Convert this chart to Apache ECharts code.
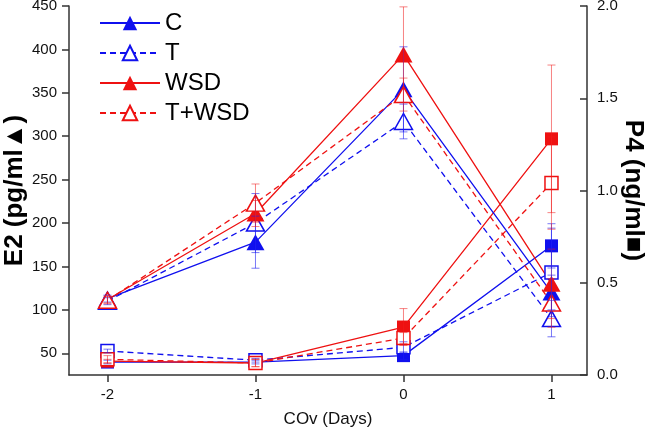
<!DOCTYPE html>
<html>
<head>
<meta charset="utf-8">
<script src="https://cdn.jsdelivr.net/npm/echarts@6/dist/echarts.min.js"></script>
<style>html,body{margin:0;padding:0;background:#fff}#c{width:649px;height:431px}</style>
</head>
<body>
<div id="c"></div>
<script>
// ---- data ----
const days = [-2, -1, 0, 1];
const groups = ['C', 'T', 'WSD', 'T+WSD'];
// E2 (pg/ml), left axis, triangles
const e2_C = [113, 178, 354, 120];
const e2_T = [110, 200, 317, 90];
const e2_WSD = [112, 211, 394, 130];
const e2_TWSD = [111, 223, 348, 108];
const e2err_C = [4, 30, 49, 20];
const e2err_T = [4, 34, 20, 21];
const e2err_WSD = [4, 15, 55, 40];
const e2err_TWSD = [4, 22, 19, 28];
// P4 (ng/ml), right axis, squares
const p4_C = [0.07, 0.07, 0.105, 0.70];
const p4_T = [0.13, 0.08, 0.15, 0.556];
const p4_WSD = [0.075, 0.065, 0.26, 1.28];
const p4_TWSD = [0.085, 0.065, 0.20, 1.04];
const p4err_C = [0.01, 0.01, 0.02, 0.12];
const p4err_T = [0.01, 0.01, 0.03, 0.24];
const p4err_WSD = [0.01, 0.02, 0.10, 0.40];
const p4err_TWSD = [0.02, 0.02, 0.03, 0.25];
const leftTicks = [50, 100, 150, 200, 250, 300, 350, 400, 450];
const xTicks = [-2, -1, 0, 1];

const BLUE = '#1010ee', RED = '#ee1111';
const FONT = 'Liberation Sans, Arial, sans-serif';

function lineS(name, vals, axis, color, dashed, filled, symbol, size) {
  return {
    name: name, type: 'line', yAxisIndex: axis,
    data: days.map((d, i) => [d, vals[i]]),
    symbol: symbol, symbolSize: size,
    lineStyle: {color: color, width: 1.3, type: dashed ? [6, 4] : 'solid'},
    itemStyle: {color: filled ? color : '#fff', borderColor: color, borderWidth: filled ? 0 : 1.5},
    z: 3, animation: false
  };
}
function errS(vals, errs, axis, color) {
  return {
    type: 'custom', yAxisIndex: axis, silent: true, z: 5, animation: false,
    data: days.map((d, i) => [d, vals[i] - errs[i], vals[i] + errs[i]]),
    renderItem: function (params, api) {
      const lo = api.coord([api.value(0), api.value(1)]);
      const hi = api.coord([api.value(0), api.value(2)]);
      const hw = 4;
      const st = {stroke: color, lineWidth: 1};
      return {type: 'group', children: [
        {type: 'line', shape: {x1: lo[0], y1: lo[1], x2: hi[0], y2: hi[1]}, style: st},
        {type: 'line', shape: {x1: lo[0] - hw, y1: lo[1], x2: lo[0] + hw, y2: lo[1]}, style: st},
        {type: 'line', shape: {x1: hi[0] - hw, y1: hi[1], x2: hi[0] + hw, y2: hi[1]}, style: st}
      ]};
    }
  };
}
const EB = 'rgba(30,30,240,0.6)', ER = 'rgba(240,30,30,0.55)';
const triSize = [18, 16], sqSize = 13;

const series = [
  errS(e2_C, e2err_C, 0, EB), errS(e2_T, e2err_T, 0, EB),
  errS(e2_WSD, e2err_WSD, 0, ER), errS(e2_TWSD, e2err_TWSD, 0, ER),
  errS(p4_C, p4err_C, 1, EB), errS(p4_T, p4err_T, 1, EB),
  errS(p4_WSD, p4err_WSD, 1, ER), errS(p4_TWSD, p4err_TWSD, 1, ER),
  lineS('P4 C', p4_C, 1, BLUE, false, true, 'rect', sqSize),
  lineS('P4 T', p4_T, 1, BLUE, true, false, 'rect', sqSize),
  lineS('P4 WSD', p4_WSD, 1, RED, false, true, 'rect', sqSize),
  lineS('P4 T+WSD', p4_TWSD, 1, RED, true, false, 'rect', sqSize),
  lineS(groups[0], e2_C, 0, BLUE, false, true, 'triangle', triSize),
  lineS(groups[1], e2_T, 0, BLUE, true, false, 'triangle', triSize),
  lineS(groups[2], e2_WSD, 0, RED, false, true, 'triangle', triSize),
  lineS(groups[3], e2_TWSD, 0, RED, true, false, 'triangle', triSize)
];

const axisLine = {show: true, onZero: false, lineStyle: {color: '#333', width: 1.5}};
const chart = echarts.init(document.getElementById('c'), null, {renderer: 'canvas'});
chart.setOption({
  backgroundColor: '#fff',
  animation: false,
  textStyle: {fontFamily: FONT},
  grid: {left: 69, right: 62, top: 6, bottom: 56, containLabel: false, outerBoundsMode: 'none'},
  legend: {
    data: groups, orient: 'vertical', left: 99, top: 11, padding: 0,
    itemWidth: 60, itemHeight: 18, itemGap: 6,
    textStyle: {fontSize: 24, color: '#000', fontFamily: FONT, lineHeight: 24}
  },
  xAxis: {
    type: 'value', min: -2.26, max: 1.24,
    axisLine: axisLine, splitLine: {show: false},
    axisTick: {show: true, length: 7, customValues: xTicks, lineStyle: {color: '#333', width: 1.5}},
    axisLabel: {customValues: xTicks, fontSize: 15, color: '#111', margin: 12, fontFamily: FONT},
    name: 'COv (Days)', nameLocation: 'middle', nameGap: 36, nameMoveOverlap: false,
    nameTextStyle: {fontSize: 17, color: '#111', fontFamily: FONT}
  },
  yAxis: [{
    type: 'value', min: 25, max: 450, position: 'left',
    axisLine: axisLine, splitLine: {show: false},
    axisTick: {show: true, length: 7, customValues: leftTicks, lineStyle: {color: '#333', width: 1.5}},
    axisLabel: {customValues: leftTicks, fontSize: 15, color: '#111', margin: 12, fontFamily: FONT},
    name: 'E2 (pg/ml▲)', nameLocation: 'middle', nameRotate: 90, nameGap: 41, nameMoveOverlap: false,
    nameTextStyle: {fontSize: 26, fontWeight: 'bold', color: '#000', fontFamily: FONT}
  }, {
    type: 'value', min: 0, max: 2, interval: 0.5, position: 'right',
    axisLine: axisLine, splitLine: {show: false},
    axisTick: {show: true, inside: true, length: 7, lineStyle: {color: '#333', width: 1.5}},
    axisLabel: {fontSize: 15, color: '#111', margin: 10, fontFamily: FONT, formatter: v => v.toFixed(1)},
    name: 'P4 (ng/ml■)', nameLocation: 'middle', nameRotate: -90, nameGap: 33, nameMoveOverlap: false,
    nameTextStyle: {fontSize: 26, fontWeight: 'bold', color: '#000', fontFamily: FONT}
  }],
  series: series
});
</script>
</body>
</html>
